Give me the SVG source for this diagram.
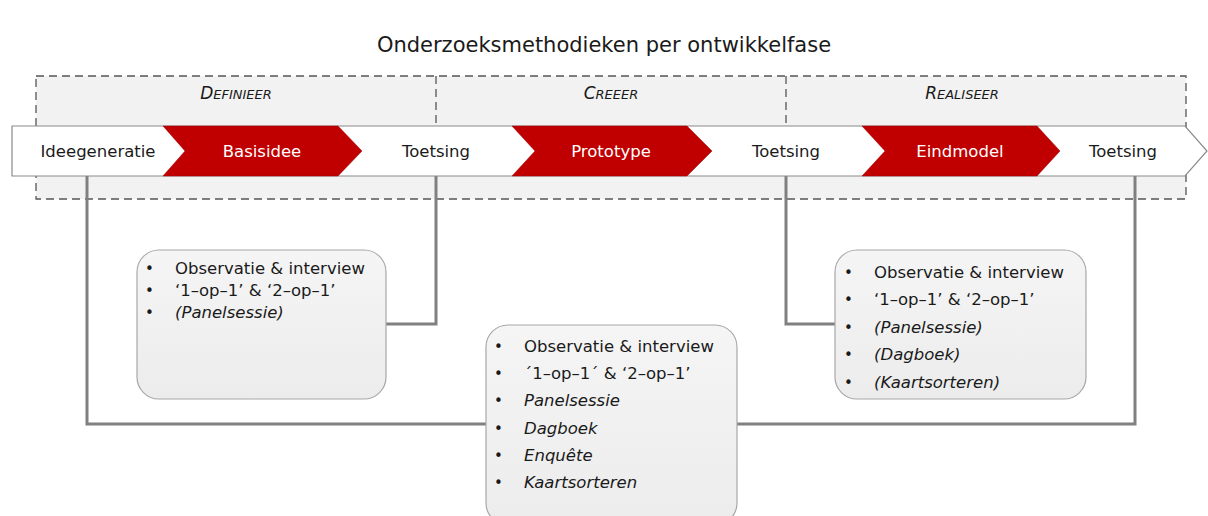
<svg xmlns="http://www.w3.org/2000/svg" width="1208" height="516" viewBox="0 0 1208 516">
<style>
text{font-family:"DejaVu Sans","Open Sans",sans-serif;fill:#1a1a1a}
.title{font-size:21px;text-anchor:middle}
.phase{font-size:17px;text-anchor:middle;font-style:italic}
.phase .s{font-size:13px}
.step{font-size:16.5px;text-anchor:middle;dominant-baseline:central}
.red{fill:#ffffff}
.chev{fill:#c00000;stroke:#a00000;stroke-width:0.5}
.item{font-size:16.5px}
.bul{font-size:15px}
.it{font-style:italic}
.box{fill:url(#bg);stroke:#a8a8a8;stroke-width:1.2}
.conn{fill:none;stroke:#808080;stroke-width:3}
</style>
<defs>
<linearGradient id="bg" x1="0" y1="0" x2="0" y2="1">
<stop offset="0" stop-color="#f5f5f5"/>
<stop offset="1" stop-color="#ececec"/>
</linearGradient>
</defs>
<rect width="1208" height="516" fill="#ffffff"/>
<text class="title" x="604" y="52">Onderzoeksmethodieken per ontwikkelfase</text>

<g id="phases">
<rect x="36" y="76" width="1150" height="123" fill="#f2f2f2" stroke="#555" stroke-width="1.3" stroke-dasharray="8 5"/>
<line x1="436" y1="76" x2="436" y2="126" stroke="#555" stroke-width="1.3" stroke-dasharray="8 5"/>
<line x1="786" y1="76" x2="786" y2="126" stroke="#555" stroke-width="1.3" stroke-dasharray="8 5"/>
<text class="phase" x="236" y="99">D<tspan class="s">EFINIEER</tspan></text>
<text class="phase" x="611" y="99">C<tspan class="s">REEER</tspan></text>
<text class="phase" x="962" y="99">R<tspan class="s">EALISEER</tspan></text>
</g>

<g id="connectors">
<polyline class="conn" points="87,176 87,424 487,424"/>
<polyline class="conn" points="737,424 1135,424 1135,176"/>
<polyline class="conn" points="436,176 436,324 386,324"/>
<polyline class="conn" points="786,176 786,324 836,324"/>
</g>

<g id="band">
<polygon points="12,126 1185,126 1207,151 1185,176 12,176" fill="#ffffff" stroke="#8a8a8a" stroke-width="1.2"/>
</g>
<g id="ideegeneratie"><text class="step" x="98" y="151">Ideegeneratie</text></g>
<g id="basisidee">
<polygon class="chev" points="163,126 338,126 362,151 338,176 163,176 185,151"/>
<text class="step red" x="262" y="151">Basisidee</text>
</g>
<g id="toetsing1"><text class="step" x="436" y="151">Toetsing</text></g>
<g id="prototype">
<polygon class="chev" points="512,126 687,126 712,151 687,176 512,176 535,151"/>
<text class="step red" x="611" y="151">Prototype</text>
</g>
<g id="toetsing2"><text class="step" x="786" y="151">Toetsing</text></g>
<g id="eindmodel">
<polygon class="chev" points="862,126 1037,126 1060,151 1037,176 862,176 885,151"/>
<text class="step red" x="960" y="151">Eindmodel</text>
</g>
<g id="toetsing3"><text class="step" x="1123" y="151">Toetsing</text></g>

<g id="box1">
<rect class="box" x="137" y="250" width="249" height="149" rx="22"/>
<text class="bul" x="145" y="274">•</text><text class="item" x="175" y="274">Observatie &amp; interview</text>
<text class="bul" x="145" y="296">•</text><text class="item" x="175" y="296">‘1–op–1’ &amp; ‘2–op–1’</text>
<text class="bul" x="145" y="318">•</text><text class="item it" x="175" y="318">(Panelsessie)</text>
</g>

<g id="box2">
<rect class="box" x="486" y="325" width="251" height="200" rx="22"/>
<text class="bul" x="494" y="352">•</text><text class="item" x="524" y="352">Observatie &amp; interview</text>
<text class="bul" x="494" y="379">•</text><text class="item" x="524" y="379">´1–op–1´ &amp; ‘2–op–1’</text>
<text class="bul" x="494" y="406">•</text><text class="item it" x="524" y="406">Panelsessie</text>
<text class="bul" x="494" y="434">•</text><text class="item it" x="524" y="434">Dagboek</text>
<text class="bul" x="494" y="461">•</text><text class="item it" x="524" y="461">Enquête</text>
<text class="bul" x="494" y="488">•</text><text class="item it" x="524" y="488">Kaartsorteren</text>
</g>

<g id="box3">
<rect class="box" x="835" y="250" width="251" height="149" rx="22"/>
<text class="bul" x="844" y="278">•</text><text class="item" x="874" y="278">Observatie &amp; interview</text>
<text class="bul" x="844" y="305">•</text><text class="item" x="874" y="305">‘1–op–1’ &amp; ‘2–op–1’</text>
<text class="bul" x="844" y="333">•</text><text class="item it" x="874" y="333">(Panelsessie)</text>
<text class="bul" x="844" y="360">•</text><text class="item it" x="874" y="360">(Dagboek)</text>
<text class="bul" x="844" y="388">•</text><text class="item it" x="874" y="388">(Kaartsorteren)</text>
</g>
</svg>
